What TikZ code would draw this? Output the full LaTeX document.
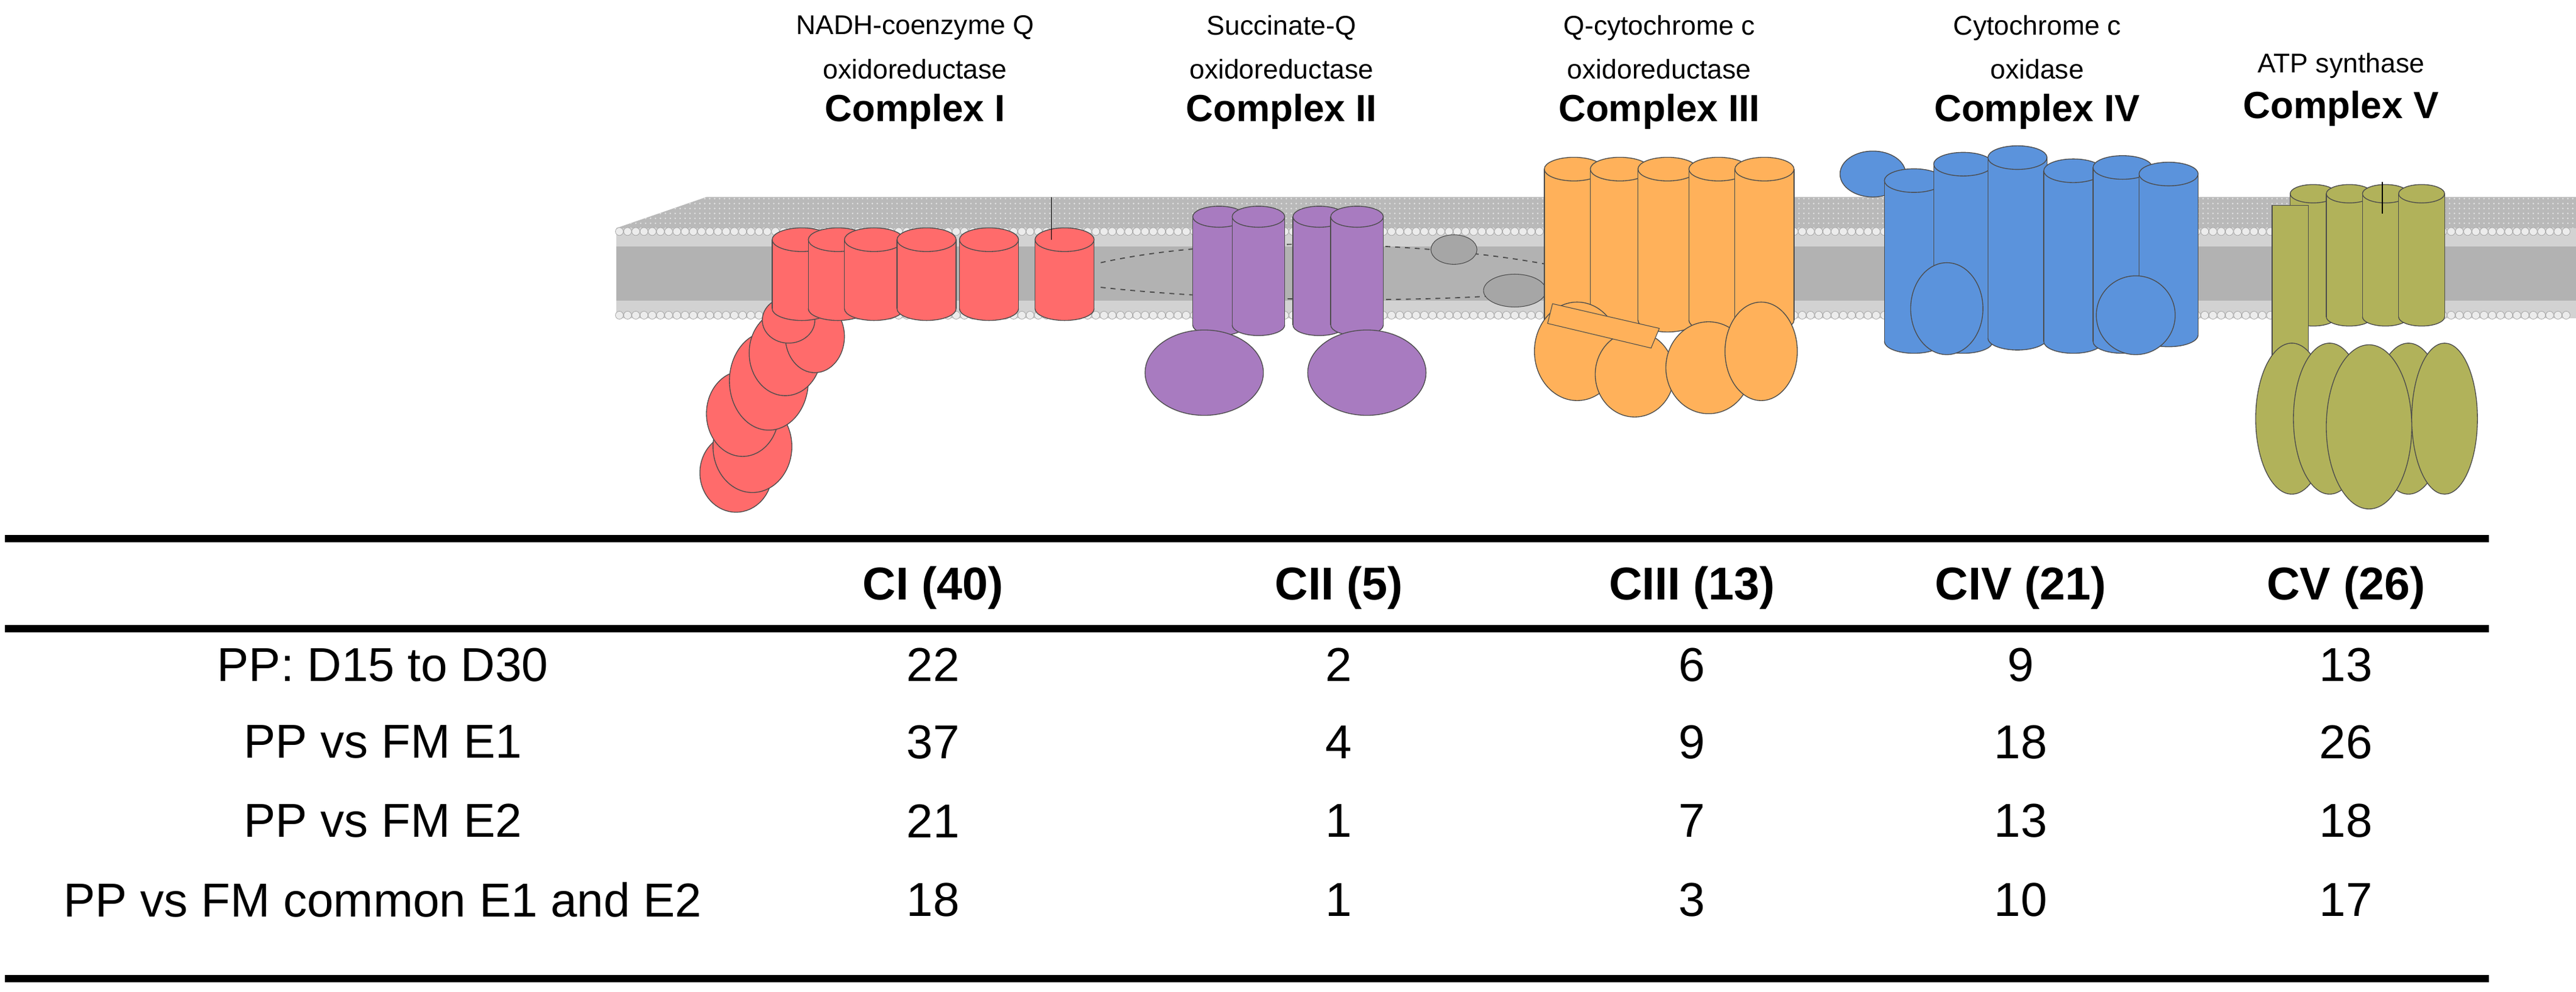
\documentclass[tikz,border=0pt]{standalone}
\usepackage{fontspec}
\setmainfont{Liberation Sans}
\usetikzlibrary{patterns}
\definecolor{cI}{HTML}{FF6B6B}
\definecolor{cII}{HTML}{A87BC0}
\definecolor{cIII}{HTML}{FFB15A}
\definecolor{cIV}{HTML}{5B93DC}
\definecolor{cV}{HTML}{B1B25A}
\newcommand\mycyl[5]{% x, ytop, halfwidth, height, color
  \fill[#5] (#1-#3,#2) rectangle (#1+#3,#2+#4);
  \fill[#5] (#1,#2+#4) ellipse[x radius=#3,y radius=#3*0.4];
  \draw[black!70,line width=0.5pt] (#1-#3,#2) -- (#1-#3,#2+#4) (#1+#3,#2) -- (#1+#3,#2+#4);
  \draw[black!70,line width=0.5pt] (#1-#3,#2+#4) arc[start angle=180,end angle=0,x radius=#3,y radius=#3*0.4];
  \draw[fill=#5,draw=black!70,line width=0.5pt] (#1,#2) ellipse[x radius=#3,y radius=#3*0.4];}
\newcommand\blob[5]{% x,y,rx,ry,color
  \draw[fill=#5,draw=black!70,line width=0.5pt] (#1,#2) ellipse[x radius=#3,y radius=#4];}
\tikzset{
  lab/.style={font=\fontsize{16.5}{19}\selectfont,anchor=center},
  bl/.style={font=\fontsize{23}{26}\selectfont\bfseries,anchor=center},
  hd/.style={font=\fontsize{28}{32}\selectfont\bfseries,anchor=center},
  cell/.style={font=\fontsize{29}{33}\selectfont,anchor=center},
  rule/.style={line width=4.5pt}
}
\begin{document}
\begin{tikzpicture}[x=1pt,y=-1pt]
\useasboundingbox (0,0) rectangle (1568,604);
% membrane
\fill[gray!55] (430,120) -- (1568,120) -- (1568,139) -- (375,139) -- cycle;
\fill[pattern=dots,pattern color=gray!20] (430,120) -- (1568,120) -- (1568,139) -- (375,139) -- cycle;
\fill[gray!35] (375,139) rectangle (1568,194);
\fill[gray!60] (375,150) rectangle (1568,183);
\foreach \i in {0,...,237} {
  \draw[gray!70,fill=gray!15,line width=0.3pt] (377+\i*5,141) circle[radius=2.4];
  \draw[gray!70,fill=gray!15,line width=0.3pt] (377+\i*5,192) circle[radius=2.4];
}
% Complex I
\foreach \y/\x/\rx/\ry in {288/448/22/24,272/458/24/28,252/452/22/26,232/468/24/30,215/478/22/26,205/496/18/22,195/480/16/14}
  \blob{\x}{\y}{\rx}{\ry}{cI};
\foreach \x in {488,510,532,564,602,648} \mycyl{\x}{146}{18}{42}{cI};
\draw[black,line width=0.6pt] (640,120) -- (640,146);
% connection lines
\draw[dashed,black!70,line width=0.7pt] (670,160) .. controls (760,140) and (900,150) .. (960,165);
\draw[dashed,black!70,line width=0.7pt] (670,175) .. controls (760,185) and (900,185) .. (960,175);
% Complex II
\foreach \x in {742,766,803,826} \mycyl{\x}{132}{16}{66}{cII};
\blob{733}{227}{36}{26}{cII};
\blob{832}{227}{36}{26}{cII};
% gray quinones
\draw[fill=gray!70,draw=black!70] (885,152) ellipse[x radius=14,y radius=9];
\draw[fill=gray!70,draw=black!70] (922,177) ellipse[x radius=19,y radius=10];
% Complex III
\foreach \x in {958,986,1015,1046,1074} \mycyl{\x}{103}{18}{92}{cIII};
\foreach \x/\y/\rx/\ry in {960/214/26/30,995/228/24/26,1040/224/26/28,1072/214/22/30} \blob{\x}{\y}{\rx}{\ry}{cIII};
\draw[black!70,fill=cIII] (945,185) -- (1010,200) -- (1005,212) -- (942,197) -- cycle;
% Complex IV
\blob{1140}{106}{20}{14}{cIV};
\foreach \x/\t/\h in {1165/110/98,1195/100/108,1228/96/110,1262/104/104,1292/102/106,1320/106/98} \mycyl{\x}{\t}{18}{\h}{cIV};
\blob{1185}{188}{22}{28}{cIV};
\blob{1300}{192}{24}{24}{cIV};
% Complex V
\foreach \x in {1408,1430,1452,1474} \mycyl{\x}{118}{14}{75}{cV};
\draw[black!70,fill=cV] (1383,125) rectangle (1405,290);
\foreach \x/\rx in {1395/22,1418/22,1466/22,1488/20} \blob{\x}{255}{\rx}{46}{cV};
\blob{1442}{260}{26}{50}{cV};
\draw[black,line width=0.6pt] (1450,111) -- (1450,130);
% labels
\node[lab] (t1a) at (557,17) {NADH-coenzyme Q};
\node[lab] (t1b) at (557,42) {oxidoreductase};
\node[bl] (t1c) at (557,68) {Complex I};
\node[lab] (t2a) at (780,17) {Succinate-Q};
\node[lab] (t2b) at (780,42) {oxidoreductase};
\node[bl] (t2c) at (780,68) {Complex II};
\node[lab] (t3a) at (1010,17) {Q-cytochrome c};
\node[lab] (t3b) at (1010,42) {oxidoreductase};
\node[bl] (t3c) at (1010,68) {Complex III};
\node[lab] (t4a) at (1240,17) {Cytochrome c};
\node[lab] (t4b) at (1240,42) {oxidase};
\node[bl] (t4c) at (1240,68) {Complex IV};
\node[lab] (t5b) at (1425,40) {ATP synthase};
\node[bl] (t5c) at (1425,66) {Complex V};
% table
\draw[rule] (3,328) -- (1515,328);
\draw[rule] (3,383) -- (1515,383);
\draw[rule] (3,596) -- (1515,596);
\foreach \x/\t [count=\c] in {568/CI (40),815/CII (5),1030/CIII (13),1230/CIV (21),1428/CV (26)}
  \node[hd] (h\c) at (\x,358) {\t};
\foreach \y/\l/\a/\b/\cc/\d/\e [count=\r] in {
  405/PP: D15 to D30/22/2/6/9/13,
  452/PP vs FM E1/37/4/9/18/26,
  500/PP vs FM E2/21/1/7/13/18,
  548/PP vs FM common E1 and E2/18/1/3/10/17} {
  \node[cell] (r\r l) at (233,\y) {\l};
  \node[cell] (r\r a) at (568,\y) {\a};
  \node[cell] (r\r b) at (815,\y) {\b};
  \node[cell] (r\r c) at (1030,\y) {\cc};
  \node[cell] (r\r d) at (1230,\y) {\d};
  \node[cell] (r\r e) at (1428,\y) {\e};
}
\end{tikzpicture}
\end{document}
